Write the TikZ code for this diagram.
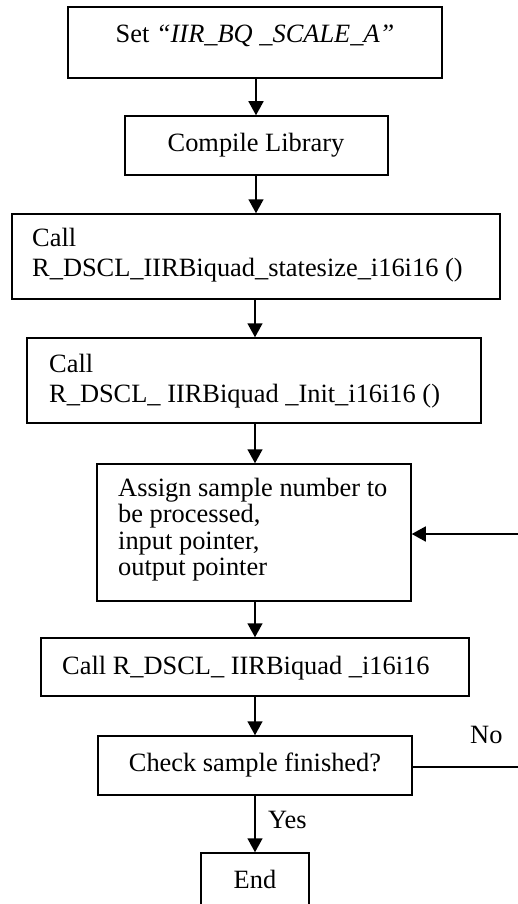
\documentclass[tikz,border=0pt]{standalone}
\usepackage{fontspec}
\setmainfont{Liberation Serif}
\usetikzlibrary{arrows.meta}
\begin{document}
\begin{tikzpicture}[x=1pt,y=-1pt,
  box/.style={draw,line width=1.5pt,inner sep=0pt},
  txt/.style={inner sep=0pt,font=\fontsize{26.4}{30}\selectfont},
  conn/.style={line width=1.5pt,-{Triangle[length=14pt,width=15pt]}},
  plain/.style={line width=1.5pt}]
\clip (0,0) rectangle (518,904);
\fill[white] (0,0) rectangle (518,904);
% boxes
\node[box,minimum width=374pt,minimum height=71pt] (b1) at (255,42.5) {};
\node[box,minimum width=263pt,minimum height=59pt] (b2) at (256.5,145.5) {};
\node[box,minimum width=488pt,minimum height=85pt] (b3) at (256,256.5) {};
\node[box,minimum width=454pt,minimum height=85pt] (b4) at (254,380.5) {};
\node[box,minimum width=314pt,minimum height=137pt] (b5) at (254,532.5) {};
\node[box,minimum width=428pt,minimum height=58pt] (b6) at (255,667) {};
\node[box,minimum width=314pt,minimum height=59pt] (b7) at (255,765.5) {};
\node[box,minimum width=108pt,minimum height=62pt] (b8) at (255,884) {};
% texts
\node[txt,anchor=base] (t1) at (255,43) {Set \textit{“IIR\_BQ \_SCALE\_A”}};
\node[txt,anchor=base] (t2) at (256,151.5) {Compile Library};
\node[txt,anchor=base west] (t3a) at (32,246) {Call};
\node[txt,anchor=base west] (t3b) at (32,276) {R\_DSCL\_IIRBiquad\_statesize\_i16i16 ()};
\node[txt,anchor=base west] (t4a) at (49,372) {Call};
\node[txt,anchor=base west] (t4b) at (49,402) {R\_DSCL\_ IIRBiquad \_Init\_i16i16 ()};
\node[txt,anchor=base west] (t5a) at (118,496) {Assign sample number to};
\node[txt,anchor=base west] (t5b) at (118,522.5) {be processed,};
\node[txt,anchor=base west] (t5c) at (118,549) {input pointer,};
\node[txt,anchor=base west] (t5d) at (118,575.5) {output pointer};
\node[txt,anchor=base west] (t6) at (62,674) {Call R\_DSCL\_ IIRBiquad \_i16i16};
\node[txt,anchor=base] (t7) at (255,771) {Check sample finished?};
\node[txt,anchor=base] (t8) at (255,888) {End};
\node[txt,anchor=base west] (no) at (470,743) {No};
\node[txt,anchor=base west] (yes) at (268,828) {Yes};
% connectors
\draw[conn] (b1.south -| 256,0) -- (b2.north -| 256,0);
\draw[conn] (b2.south -| 256,0) -- (b3.north -| 256,0);
\draw[conn] (b3.south -| 255,0) -- (b4.north -| 255,0);
\draw[conn] (b4.south -| 255,0) -- (b5.north -| 255,0);
\draw[conn] (b5.south -| 255,0) -- (b6.north -| 255,0);
\draw[conn] (b6.south -| 255,0) -- (b7.north -| 255,0);
\draw[conn] (b7.south -| 255,0) -- (b8.north -| 255,0);
\coordinate (rin) at (519,534);
\coordinate (rout) at (519,767);
\draw[conn] (rin) -- (b5.east |- rin);
\draw[plain] (b7.east |- rout) -- (rout);
\end{tikzpicture}
\end{document}
